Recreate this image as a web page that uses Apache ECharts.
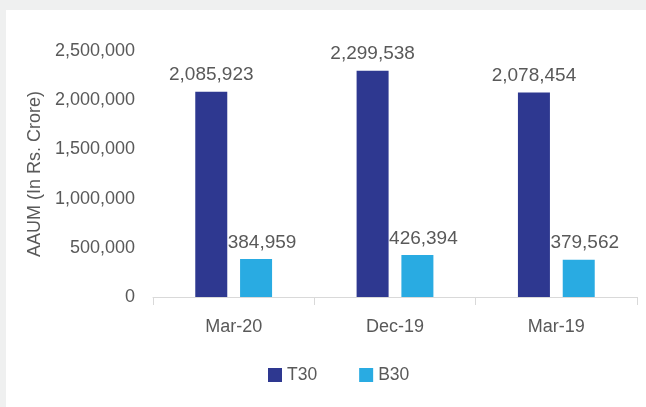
<!DOCTYPE html>
<html>
<head>
<meta charset="utf-8">
<script src="https://cdn.jsdelivr.net/npm/echarts@6/dist/echarts.min.js"></script>
<style>
  html, body { margin: 0; padding: 0; background: #eff0f0; }
  #wrap { position: absolute; left: 6px; top: 10px; right: 0; bottom: 0; background: #ffffff; }
  #chart { position: absolute; left: -6px; top: -10px; width: 646px; height: 407px; }
</style>
</head>
<body>
<div id="wrap"><div id="chart"></div></div>
<script>
// Average AUM by city tier, per quarter
const categories = ['Mar-20', 'Dec-19', 'Mar-19'];
const t30Values = [2085923, 2299538, 2078454];
const b30Values = [384959, 426394, 379562];
const seriesNames = ['T30', 'B30'];

const fmt = v => v.toLocaleString('en-US');
const font = '"Liberation Sans", Arial, Helvetica, sans-serif';
const textGrey = '#595959';

function valueLabel(dx) {
  return {
    show: true,
    position: 'top',
    distance: 7,
    offset: [dx, 0],
    fontFamily: font,
    fontSize: 19,
    color: textGrey,
    formatter: p => fmt(p.value)
  };
}

const chart = echarts.init(document.getElementById('chart'), null, { renderer: 'canvas' });
chart.setOption({
  backgroundColor: 'transparent',
  animation: false,
  textStyle: { fontFamily: font },
  grid: { left: 153, right: 9, top: 51, bottom: 110 },
  legend: {
    data: seriesNames,
    top: 366,
    left: 268,
    padding: 0,
    itemWidth: 14,
    itemHeight: 14,
    itemGap: 42,
    icon: 'rect',
    textStyle: { fontFamily: font, fontSize: 17.5, color: textGrey }
  },
  xAxis: {
    type: 'category',
    data: categories,
    axisLine: { lineStyle: { color: '#d9d9d9', width: 1 } },
    axisTick: { show: true, length: 8, lineStyle: { color: '#d9d9d9' } },
    axisLabel: { fontFamily: font, fontSize: 18, color: textGrey, margin: 21 }
  },
  yAxis: {
    type: 'value',
    min: 0,
    max: 2500000,
    interval: 500000,
    name: 'AAUM (In Rs. Crore)',
    nameLocation: 'middle',
    nameGap: 109,
    nameTextStyle: { fontFamily: font, fontSize: 18, color: textGrey },
    axisLine: { show: false },
    axisTick: { show: false },
    splitLine: { show: false },
    axisLabel: { fontFamily: font, fontSize: 18, color: textGrey, margin: 18, formatter: fmt }
  },
  series: [
    {
      name: seriesNames[0],
      type: 'bar',
      data: t30Values,
      barWidth: 32,
      barGap: '40%',
      itemStyle: { color: '#2e3890' },
      label: valueLabel(0)
    },
    {
      name: seriesNames[1],
      type: 'bar',
      data: b30Values,
      barWidth: 32,
      barGap: '40%',
      itemStyle: { color: '#29abe2' },
      label: valueLabel(6)
    }
  ]
});
</script>
</body>
</html>
